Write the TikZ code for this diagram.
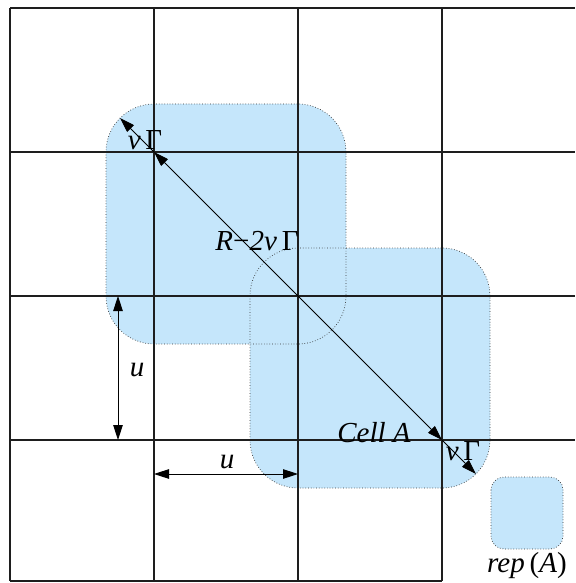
\documentclass[tikz,border=0pt]{standalone}
\usepackage{fontspec}
\setmainfont{Liberation Serif}
\usetikzlibrary{arrows.meta}
\definecolor{cellblue}{RGB}{197,230,251}
\definecolor{gridgray}{RGB}{30,30,30}
\begin{document}
\begin{tikzpicture}[x=1pt,y=-1pt,
  cellfill/.style={fill=cellblue, rounded corners=48pt},
  cellborder/.style={draw=black!80, dotted, line width=0.7pt, rounded corners=48pt},
  gridline/.style={draw=gridgray, line width=1.3pt},
  dimarrow/.style={draw=black, line width=0.9pt, {Triangle[length=15pt,width=9.5pt]}-{Triangle[length=15pt,width=9.5pt]}},
  onearrow/.style={draw=black, line width=0.9pt, -{Triangle[length=15pt,width=9.5pt]}},
  lbl/.style={font=\fontsize{29}{33}\selectfont, inner sep=0pt}]
\useasboundingbox (0,0) rectangle (575,583);
% cells
\fill[cellfill] (106,104) rectangle (346,344);
\fill[cellfill] (250,248) rectangle (490,488);
\draw[cellborder] (106,104) rectangle (346,344);
\draw[cellborder] (250,248) rectangle (490,488);
\filldraw[fill=cellblue, draw=black!80, dotted, line width=0.7pt, rounded corners=13pt] (491,477) rectangle (563,549);
% grid
\foreach \x in {10,154,298,442} \draw[gridline] (\x,8) -- (\x,581);
\foreach \y in {8,152,296,440} \draw[gridline] (10,\y) -- (575,\y);
\draw[gridline] (10,581) -- (442,581);
% coordinates
\coordinate (g1) at (154,152);
\coordinate (g3) at (442,440);
\coordinate (c1) at (120,118);
\coordinate (c2) at (476,474);
\coordinate (ua) at (118,296);
\coordinate (ub) at (118,440);
\coordinate (ha) at (154,474);
\coordinate (hb) at (298,474);
% arrows
\draw[onearrow] (g1) -- (c1);
\draw[dimarrow] (g1) -- (g3);
\draw[onearrow] (g3) -- (c2);
\draw[dimarrow] (ua) -- (ub);
\draw[dimarrow] (ha) -- (hb);
% labels
\node[lbl] (vg1) at (145,140) {\textit{v}\,Γ};
\node[lbl] (rlab) at (257,241) {\textit{R}−\textit{2v}\,Γ};
\node[lbl] (vg2) at (463,451) {\textit{v}\,Γ};
\node[lbl] (cell) at (374,433) {\textit{Cell A}};
\node[lbl] (u1) at (137,370) {\textit{u}};
\node[lbl] (u2) at (227,462) {\textit{u}};
\node[lbl] (rep) at (527,566) {\textit{rep}\,(\textit{A})};
\end{tikzpicture}
\end{document}
